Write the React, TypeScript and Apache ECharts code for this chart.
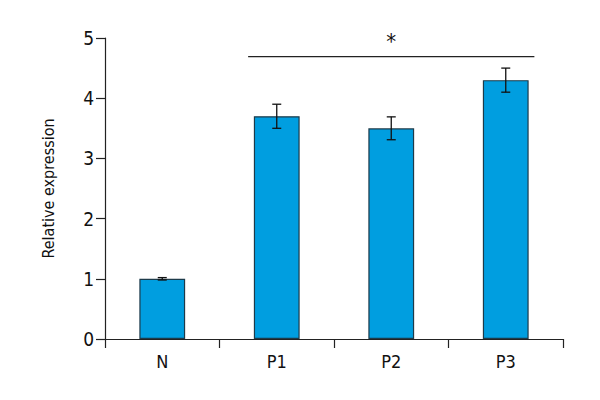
import React, { useEffect, useRef } from "react";
import * as echarts from "echarts";

const categories = ["N", "P1", "P2", "P3"];
const values = [1.0, 3.7, 3.5, 4.3];
const errors = [0.02, 0.2, 0.19, 0.2];
const yTicks = [0, 1, 2, 3, 4, 5];
const sigFrom = "P1";
const sigTo = "P3";
const sigLevel = 4.69;
const sigLabel = "*";

const FONT = "DejaVu Sans Condensed, Liberation Sans Narrow, sans-serif";

export default function App() {
  const ref = useRef<HTMLDivElement>(null);
  useEffect(() => {
    if (!ref.current) return;
    const chart = echarts.init(ref.current, null, { renderer: "svg" });
    const errData = categories.map((c, i) => [i, values[i] - errors[i], values[i] + errors[i]]);
    const sigData = [[categories.indexOf(sigFrom), categories.indexOf(sigTo), sigLevel]];
    chart.setOption({
      animation: false,
      backgroundColor: "#ffffff",
      grid: { left: 105, right: 37, top: 38, bottom: 61 },
      xAxis: {
        type: "category",
        data: categories,
        boundaryGap: true,
        axisLine: { lineStyle: { color: "#222", width: 1.2 } },
        axisTick: { show: true, length: 9, inside: false, lineStyle: { color: "#222", width: 1.2 } },
        axisLabel: { color: "#111", fontSize: 18, fontFamily: FONT, margin: 13 },
      },
      yAxis: {
        type: "value",
        min: yTicks[0],
        max: yTicks[yTicks.length - 1],
        interval: 1,
        splitLine: { show: false },
        axisLine: { show: true, lineStyle: { color: "#222", width: 1.2 } },
        axisTick: { show: true, length: 9, lineStyle: { color: "#222", width: 1.2 } },
        axisLabel: { color: "#111", fontSize: 19, fontFamily: FONT, margin: 11 },
        name: "Relative expression",
        nameLocation: "middle",
        nameRotate: 90,
        nameGap: 49,
        nameTextStyle: { color: "#111", fontSize: 16, fontFamily: FONT },
      },
      series: [
        {
          type: "bar",
          data: values,
          barWidth: "40%",
          itemStyle: { color: "#009EE0", borderColor: "#1d3b4a", borderWidth: 1.2 },
        },
        {
          type: "custom",
          data: errData,
          z: 10,
          renderItem: (params: any, api: any) => {
            const x = api.value(0);
            const lo = api.coord([x, api.value(1)]);
            const hi = api.coord([x, api.value(2)]);
            const w = 4.5;
            const s = { stroke: "#111", lineWidth: 1.3 };
            return {
              type: "group",
              children: [
                { type: "line", shape: { x1: lo[0], y1: lo[1], x2: hi[0], y2: hi[1] }, style: s },
                { type: "line", shape: { x1: lo[0] - w, y1: lo[1], x2: lo[0] + w, y2: lo[1] }, style: s },
                { type: "line", shape: { x1: hi[0] - w, y1: hi[1], x2: hi[0] + w, y2: hi[1] }, style: s },
              ],
            };
          },
        },
        {
          type: "custom",
          data: sigData,
          z: 10,
          renderItem: (params: any, api: any) => {
            const a = api.coord([api.value(0), api.value(2)]);
            const b = api.coord([api.value(1), api.value(2)]);
            const band = api.size([1, 0])[0];
            const ext = band * 0.25;
            return {
              type: "group",
              children: [
                {
                  type: "line",
                  shape: { x1: a[0] - ext, y1: a[1], x2: b[0] + ext, y2: b[1] },
                  style: { stroke: "#222", lineWidth: 1.3 },
                },
                {
                  type: "text",
                  x: (a[0] + b[0]) / 2,
                  y: a[1] - 4,
                  style: {
                    text: sigLabel,
                    fontSize: 22,
                    fontFamily: FONT,
                    fill: "#111",
                    align: "center",
                    verticalAlign: "bottom",
                  },
                },
              ],
            };
          },
        },
      ],
    });
    return () => chart.dispose();
  }, []);
  return <div ref={ref} style={{ position: "absolute", left: 0, top: 0, width: 600, height: 400 }} />;
}
